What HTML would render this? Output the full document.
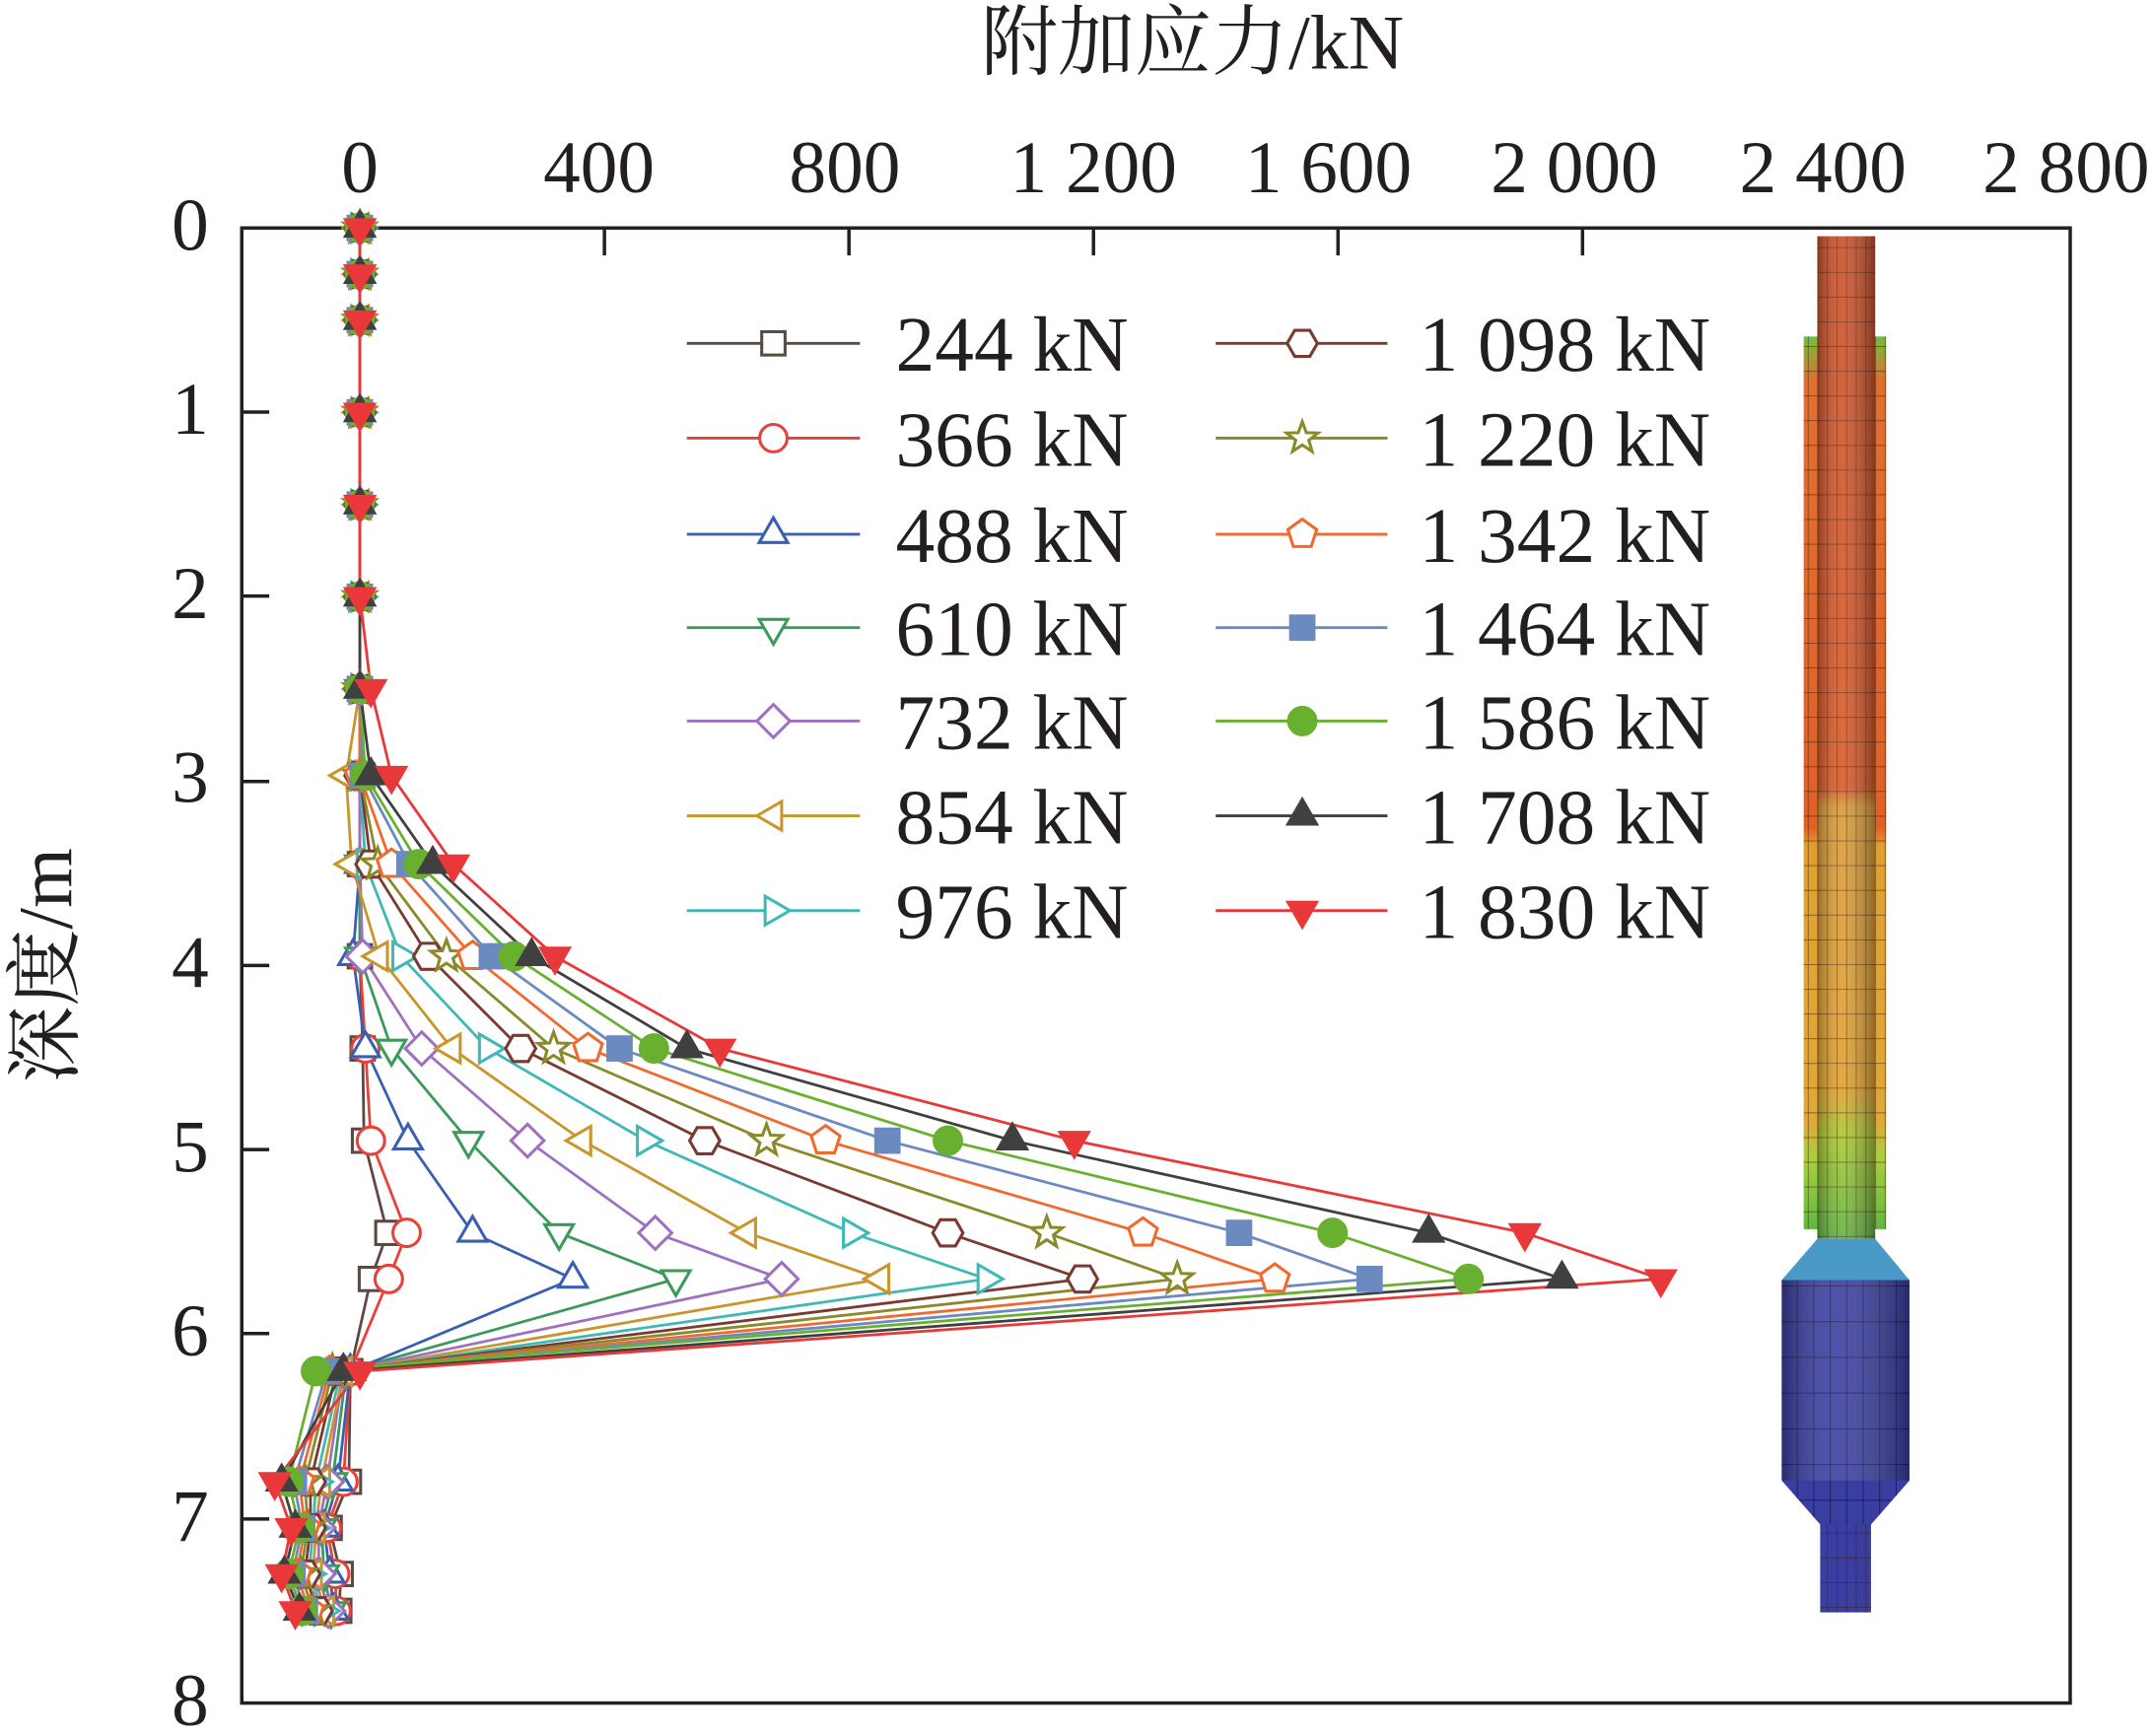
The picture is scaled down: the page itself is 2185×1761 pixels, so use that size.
<!DOCTYPE html>
<html><head><meta charset="utf-8"><style>
html,body{margin:0;padding:0;background:#fff;}
svg{display:block;}
text{font-family:"Liberation Serif","Noto Serif CJK SC",serif;fill:#231f20;}
</style></head><body>
<svg id="s" width="2185" height="1761" viewBox="0 0 1568 1264" preserveAspectRatio="none" xmlns="http://www.w3.org/2000/svg">
<defs>
<linearGradient id="pg" x1="0" y1="0" x2="0" y2="1">
<stop offset="0" stop-color="#c8502a"/><stop offset="0.55" stop-color="#d85a28"/>
<stop offset="0.57" stop-color="#d89a38"/><stop offset="0.85" stop-color="#e0a030"/>
<stop offset="0.9" stop-color="#a8c830"/><stop offset="1" stop-color="#60b040"/>
</linearGradient>
<linearGradient id="cg" x1="0" y1="0" x2="0" y2="1">
<stop offset="0" stop-color="#70c040"/><stop offset="0.05" stop-color="#e07030"/><stop offset="0.55" stop-color="#e06028"/>
<stop offset="0.57" stop-color="#e0a030"/><stop offset="0.88" stop-color="#e0a838"/>
<stop offset="0.92" stop-color="#a8d040"/><stop offset="1" stop-color="#60b840"/>
</linearGradient>
<linearGradient id="sh" x1="0" y1="0" x2="1" y2="0">
<stop offset="0" stop-color="#000" stop-opacity="0.3"/><stop offset="0.4" stop-color="#fff" stop-opacity="0.1"/><stop offset="1" stop-color="#000" stop-opacity="0.35"/>
</linearGradient>
<pattern id="grid" width="7" height="18" patternUnits="userSpaceOnUse">
<path d="M0 0H7M0 0V18" stroke="#402010" stroke-width="1" fill="none" opacity="0.7"/>
</pattern>
<pattern id="gridb" width="12" height="26" patternUnits="userSpaceOnUse">
<path d="M0 0H12M0 0V26" stroke="#101040" stroke-width="1.2" fill="none" opacity="0.8"/>
</pattern>
</defs>
<text x="868" y="50" font-size="56" text-anchor="middle">附加应力/kN</text>
<text transform="translate(52,703) rotate(-90)" font-size="56" text-anchor="middle">深度/m</text>
<g font-size="54" text-anchor="middle">
<text x="262" y="140">0</text><text x="436" y="140">400</text><text x="615" y="140">800</text>
<text x="796" y="140">1 200</text><text x="967" y="140">1 600</text><text x="1146" y="140">2 000</text>
<text x="1327" y="140">2 400</text><text x="1504" y="140">2 800</text>
</g>
<g font-size="54" text-anchor="end">
<text x="152" y="182">0</text><text x="152" y="316">1</text><text x="152" y="450">2</text><text x="152" y="584">3</text>
<text x="152" y="719">4</text><text x="152" y="853">5</text><text x="152" y="987">6</text><text x="152" y="1122">7</text><text x="152" y="1256">8</text>
</g>
<!-- pile -->
<g>
<rect x="1313" y="245" width="60" height="650" fill="url(#cg)"/>
<rect x="1313" y="245" width="60" height="650" fill="url(#grid)"/>
<rect x="1323" y="172" width="42" height="730" fill="url(#pg)"/>
<rect x="1323" y="172" width="42" height="730" fill="url(#grid)"/>
<rect x="1323" y="172" width="42" height="730" fill="url(#sh)"/>
<path d="M1323 902 L1297 932 L1390 932 L1365 902Z" fill="#4a9ac8"/>
<path d="M1297 932 H1390 V1078 L1362 1110 H1325 L1297 1078Z" fill="#3a3ea0"/>
<path d="M1297 932 H1390 V1078 L1362 1110 H1325 L1297 1078Z" fill="url(#gridb)"/>
<rect x="1325" y="1110" width="37" height="64" fill="#3a3ea0"/>
<rect x="1325" y="1110" width="37" height="64" fill="url(#grid)"/>
<rect x="1297" y="932" width="93" height="146" fill="url(#sh)"/>
</g>
<rect x="176" y="166" width="1331" height="1074" fill="none" stroke="#231f20" stroke-width="2.5"/>
<g stroke="#231f20" stroke-width="2.5">
<path d="M440 166v20M618 166v20M796 166v20M974 166v20M1152 166v20"/>
<path d="M176 300h20M176 434h20M176 569h20M176 703h20M176 837h20M176 971h20M176 1106h20"/>
</g>
<g id="data"></g>
<g font-size="57">
<text x="652" y="270">244 kN</text><text x="652" y="339">366 kN</text><text x="652" y="409">488 kN</text>
<text x="652" y="477">610 kN</text><text x="652" y="545">732 kN</text><text x="652" y="614">854 kN</text><text x="652" y="683">976 kN</text>
<text x="1033" y="270">1 098 kN</text><text x="1033" y="339">1 220 kN</text><text x="1033" y="409">1 342 kN</text>
<text x="1033" y="477">1 464 kN</text><text x="1033" y="545">1 586 kN</text><text x="1033" y="614">1 708 kN</text><text x="1033" y="683">1 830 kN</text>
</g>
</svg>
<script>
var cols=["#5a4a42","#e8403a","#3a5fb0","#3a9a5a","#a070c0","#c8962a","#40b8b8","#7a3a30","#8a8a2a","#f06a30","#6a8ac0","#6ab030","#404040","#e8383a"];
var mk=["sq","ci","tu","td","di","tl","tr","hx","st","pt","sq","ci","tu","td"];
var fill=[0,0,0,0,0,0,0,0,0,0,1,1,1,1];
var depth=[0,0.25,0.5,1,1.5,2,2.5,2.97,3.45,3.95,4.45,4.95,5.45,5.7,6.2,6.8,7.05,7.3,7.5];
var rows=[
[262,262,262,262,262,262,262,262,262,262,262,262,262,262],
[262,262,262,262,262,262,262,262,262,262,262,262,262,262],
[262,262,262,262,262,262,262,262,262,262,262,262,262,262],
[262,262,262,262,262,262,262,262,262,262,262,262,262,262],
[262,262,262,262,262,262,262,262,262,262,262,262,262,262],
[262,262,262,262,262,262,262,262,262,262,262,262,262,262],
[262,262,262,262,262,262,262,262,262,262,262,262,262,270],
[262,262,262,262,262,252,262,262,262,262,264,266,270,285],
[262,262,262,262,262,256,266,270,275,285,298,305,315,330],
[262,262,257,262,264,276,292,312,325,344,358,374,387,404],
[264,266,266,285,307,329,355,379,403,428,451,476,500,524],
[265,270,297,341,384,424,470,513,558,601,646,690,737,782],
[282,296,344,407,477,544,620,690,762,832,902,970,1040,1110],
[270,283,417,492,569,641,718,788,857,928,997,1069,1137,1209],
[255,255,255,252,250,250,248,245,242,240,238,230,250,262],
[254,250,246,242,238,234,230,226,222,218,214,210,205,200],
[240,238,236,234,232,230,228,226,224,222,220,218,215,212],
[248,244,240,236,232,228,225,222,219,216,213,210,207,205],
[247,245,243,241,239,237,235,231,228,225,222,220,218,215]];
function Y(d){return 166+d*134.25;}
function marker(t,x,y,c,f){
 var r=10,fc=f?c:"#fff",a='fill="'+fc+'" stroke="'+c+'" stroke-width="2.2"';
 function poly(n,rot,rr){var p=[];for(var i=0;i<n;i++){var an=rot+i*2*Math.PI/n;p.push((x+rr*Math.cos(an)).toFixed(1)+","+(y+rr*Math.sin(an)).toFixed(1));}return '<polygon points="'+p.join(" ")+'" '+a+'/>';}
 if(t=="sq")return '<rect x="'+(x-8.5)+'" y="'+(y-8.5)+'" width="17" height="17" '+a+'/>';
 if(t=="ci")return '<circle cx="'+x+'" cy="'+y+'" r="'+r+'" '+a+'/>';
 if(t=="tu")return poly(3,-Math.PI/2,12);
 if(t=="td")return poly(3,Math.PI/2,12);
 if(t=="tl")return poly(3,Math.PI,12);
 if(t=="tr")return poly(3,0,12);
 if(t=="di")return poly(4,-Math.PI/2,12);
 if(t=="hx")return poly(6,0,11);
 if(t=="pt")return poly(5,-Math.PI/2,11);
 if(t=="st"){var p=[];for(var i=0;i<10;i++){var an=-Math.PI/2+i*Math.PI/5,rr=i%2?5:12;p.push((x+rr*Math.cos(an)).toFixed(1)+","+(y+rr*Math.sin(an)).toFixed(1));}return '<polygon points="'+p.join(" ")+'" '+a+'/>';}
}
var h="";
for(var k=0;k<14;k++){
 var pts=[];for(var i=0;i<depth.length;i++)pts.push(rows[i][k]+","+Y(depth[i]).toFixed(1));
 h+='<polyline points="'+pts.join(" ")+'" fill="none" stroke="'+cols[k]+'" stroke-width="2"/>';
}
for(var k=0;k<14;k++){for(var i=0;i<depth.length;i++)h+=marker(mk[k],rows[i][k],Y(depth[i]),cols[k],fill[k]);}
var ly=[250,319,389,457,525,594,663];
for(var k=0;k<14;k++){
 var c=k<7?0:1,x0=c?885:500,x1=c?1010:626,xm=c?948:563,y=ly[k%7];
 h+='<line x1="'+x0+'" y1="'+y+'" x2="'+x1+'" y2="'+y+'" stroke="'+cols[k]+'" stroke-width="2"/>';
 h+=marker(mk[k],xm,y,cols[k],fill[k]);
}
document.getElementById("data").innerHTML=h;
</script>
</body></html>
